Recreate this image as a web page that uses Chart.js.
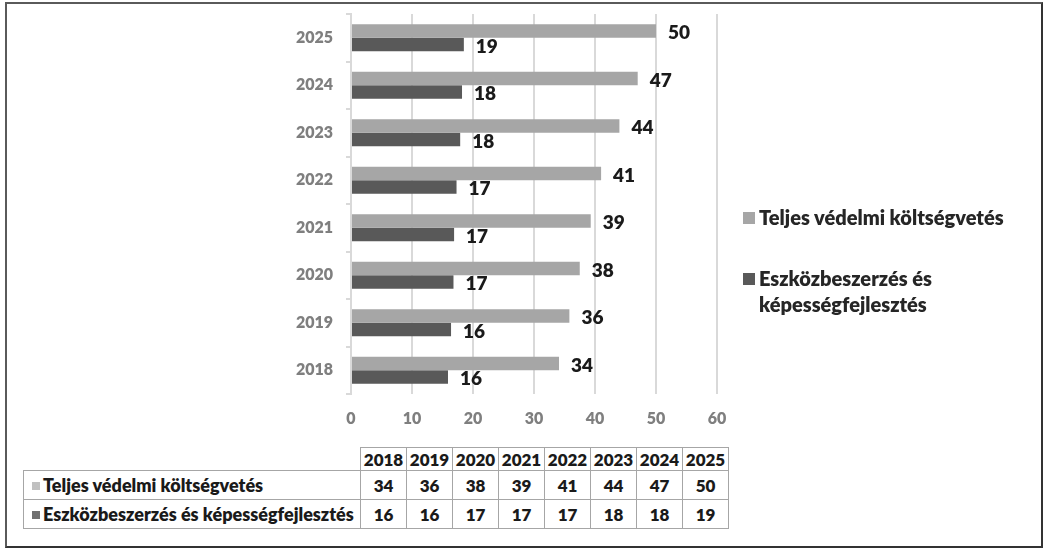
<!DOCTYPE html>
<html>
<head>
<meta charset="utf-8">
<script src="https://cdn.jsdelivr.net/npm/chart.js@4"></script>
<style>
  body { margin: 0; background: #fff; font-family: Lato, sans-serif; }
  #wrap { position: relative; width: 1043px; height: 548px; overflow: hidden; }
  #keret { position: absolute; left: 5px; top: 2px; width: 1038px; height: 546px; box-sizing: border-box; border: 2px solid #5a5a5a; border-right-color: #333; border-bottom-color: #333; }
  #grafikon { position: absolute; left: 0; top: 0; }
  #jelmagyarazat { position: absolute; left: 743px; top: 204px; font-weight: 800; font-size: 20px; color: #262626; }
  .jel { position: relative; padding-left: 16px; line-height: 26px; }
  .jel span.neg { position: absolute; left: 0; top: 8px; width: 12px; height: 12px; }
  #tabla { position: absolute; left: 23px; top: 447px; border-collapse: collapse; font-weight: 800; font-size: 17px; color: #1a1a1a; }
  #tabla td { border: 1.5px solid #a6a6a6; padding: 0; text-align: center; width: 45px; }
  #tabla tr.fej td { height: 22px; }
  #tabla tr.sor td { height: 28px; }
  #tabla td.ures { border: none; border-right: 1.5px solid #a6a6a6; }
  #tabla td.nev { text-align: left; width: 328px; white-space: nowrap; padding-left: 8px; font-size: 18px; }
  #tabla td.nev span { display: inline-block; width: 8px; height: 8px; margin-right: 3px; vertical-align: 2px; }
</style>
</head>
<body>
<div id="wrap">
  <canvas id="grafikon" width="1043" height="440"></canvas>
  <div id="jelmagyarazat"></div>
  <table id="tabla"></table>
  <div id="keret"></div>
</div>
<script>
// evek es ertekek (mrd), a sav hossza a grafikonrol leolvasva
var evek = ['2018', '2019', '2020', '2021', '2022', '2023', '2024', '2025'];
var teljes = [34.1, 35.8, 37.5, 39.3, 41.0, 44.0, 47.0, 50.0];
var eszkoz = [15.9, 16.4, 16.8, 16.9, 17.3, 17.9, 18.2, 18.5];
var nevTeljes = 'Teljes védelmi költségvetés';
var nevEszkoz = 'Eszközbeszerzés és képességfejlesztés';
var xTickek = [0, 10, 20, 30, 40, 50, 60];

var szinTeljes = '#a6a6a6';
var szinEszkoz = '#595959';

// ertekek kiirasa a savok vegere
var ertekFelirat = {
  id: 'ertekFelirat',
  afterDatasetsDraw: function (chart) {
    var ctx = chart.ctx;
    ctx.save();
    ctx.font = '800 19px Lato';
    ctx.fillStyle = '#1a1a1a';
    ctx.textAlign = 'left';
    ctx.textBaseline = 'middle';
    chart.data.datasets.forEach(function (ds, d) {
      var meta = chart.getDatasetMeta(d);
      meta.data.forEach(function (el, i) {
        ctx.fillText(Math.round(ds.data[i]), el.x + 12, el.y + 2);
      });
    });
    ctx.restore();
  }
};

var ctx = document.getElementById('grafikon').getContext('2d');
var chart = new Chart(ctx, {
  type: 'bar',
  data: {
    labels: evek,
    datasets: [
      {
        label: nevTeljes,
        data: teljes,
        backgroundColor: szinTeljes,
        borderWidth: 0
      },
      {
        label: nevEszkoz,
        data: eszkoz,
        backgroundColor: szinEszkoz,
        borderWidth: 0
      }
    ]
  },
  options: {
    indexAxis: 'y',
    responsive: false,
    animation: false,
    devicePixelRatio: 1,
    layout: { padding: { top: 14, right: 326, left: 0, bottom: 0 } },
    datasets: {
      bar: { categoryPercentage: 0.57, barPercentage: 1 }
    },
    scales: {
      x: {
        min: 0,
        max: 60,
        afterFit: function (s) { s.height = 46; },
        afterBuildTicks: function (s) { s.ticks = xTickek.map(function (v) { return { value: v }; }); },
        ticks: { color: '#7f7f7f', font: { family: 'Lato', weight: 800, size: 16 }, padding: 15 },
        grid: { color: '#d9d9d9', lineWidth: 2, drawTicks: false },
        border: { display: false }
      },
      y: {
        reverse: true,
        afterFit: function (s) { s.width = 351; s.paddingTop = 0; s.paddingBottom = 0; },
        ticks: { color: '#7f7f7f', font: { family: 'Lato', weight: 800, size: 16 }, padding: 13 },
        grid: { drawOnChartArea: false, color: '#d9d9d9', lineWidth: 2, tickLength: 5 },
        border: { color: '#d9d9d9', width: 2 }
      }
    },
    plugins: {
      legend: { display: false },
      tooltip: { enabled: false }
    }
  },
  plugins: [ertekFelirat]
});

// jelmagyarazat jobb oldalon
var jm = document.getElementById('jelmagyarazat');
jm.innerHTML =
  '<div class="jel"><span class="neg" style="background:' + szinTeljes + '"></span>Teljes védelmi költségvetés</div>' +
  '<div class="jel" style="margin-top:35px"><span class="neg" style="background:' + szinEszkoz + '"></span>Eszközbeszerzés és<br>képességfejlesztés</div>';

// adattabla
var tabla = document.getElementById('tabla');
var html = '<tr class="fej"><td class="ures"></td>';
for (var i = 0; i < evek.length; i++) html += '<td>' + evek[i] + '</td>';
html += '</tr>';
function sor(nev, szin, adat) {
  var s = '<tr class="sor"><td class="nev"><span style="background:' + szin + '"></span>' + nev + '</td>';
  for (var i = 0; i < adat.length; i++) s += '<td>' + Math.round(adat[i]) + '</td>';
  return s + '</tr>';
}
html += sor(nevTeljes, '#c0c0c0', teljes);
html += sor(nevEszkoz, '#707070', eszkoz);
tabla.innerHTML = html;
</script>
</body>
</html>
